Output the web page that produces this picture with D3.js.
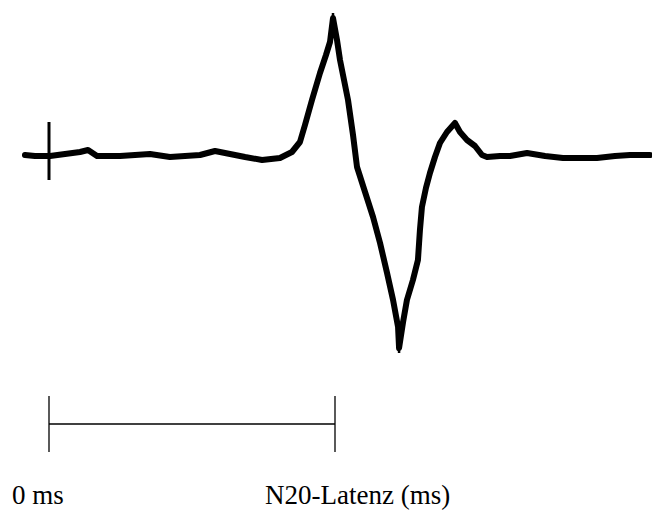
<!DOCTYPE html>
<html>
<head>
<meta charset="UTF-8">
<title>N20-Latenz</title>
<style>
  body { margin: 0; background: #fff; }
  svg text { font-family: "Liberation Serif", "Times New Roman", serif; }
</style>
</head>
<body>
<div id="chart"></div>
<script src="https://cdnjs.cloudflare.com/ajax/libs/d3/7.8.5/d3.min.js"></script>
<script>
// time in ms (0 = stimulus), amplitude in arbitrary units (positive = up)
const times = [-1.68, -0.98, 0.07, 1.12, 2.17, 2.73, 3.36, 4.97, 7.06, 8.46, 9.51, 10.56, 11.61, 12.66, 13.71, 14.90,
  16.15, 16.99, 17.55, 17.90, 18.39, 18.95, 19.37, 19.65, 19.86, 20.14, 20.35, 20.63, 20.91, 21.26, 21.54,
  22.10, 22.66, 23.15, 23.64, 24.06, 24.41, 24.48, 24.76, 25.03, 25.45, 25.80, 25.94, 26.08, 26.36, 26.64,
  26.99, 27.34, 27.83, 28.39, 28.74, 29.23, 29.79, 30.28, 30.63, 31.54, 32.24, 33.43, 34.69, 35.94, 37.13,
  38.32, 39.58, 40.63, 42.03];
const amps = [0, -0.1, -0.1, 0.1, 0.3, 0.5, -0.1, -0.1, 0.1, -0.2, -0.1, 0, 0.4, 0.1, -0.2, -0.5,
  -0.3, 0.3, 1.3, 3.0, 5.5, 8.2, 10.0, 11.3, 13.7, 11.5, 9.5, 7.5, 5.5, 2.0, -1.2,
  -3.7, -6.2, -8.8, -11.8, -14.5, -17.2, -19.3, -16.7, -14.5, -12.5, -10.5, -7.5, -5.2, -3.3, -1.8,
  -0.2, 1.2, 2.3, 3.2, 2.3, 1.5, 0.9, 0, -0.2, -0.1, -0.1, 0.2, -0.1, -0.3, -0.3,
  -0.3, -0.1, 0, 0];
// thin tips at the two peaks: [time, amp from, amp to]
const spikes = [[19.86, 12.0, 14.2], [24.48, -17.5, -19.8]];
const stimulus = { t: 0, top: 3.3, bottom: -2.5 };
const latency = { start: 0, end: 20 };
const labels = ["0 ms", "N20-Latenz (ms)"];

const width = 652, height = 511;
const x = d3.scaleLinear().domain([0, 20]).range([49, 335]);
const y = d3.scaleLinear().domain([0, 10]).range([155, 55]);

const svg = d3.select("#chart").append("svg")
  .attr("width", width)
  .attr("height", height);

const data = times.map((t, i) => ({ t: t, v: amps[i] }));

svg.append("path")
  .datum(data)
  .attr("fill", "none")
  .attr("stroke", "#000")
  .attr("stroke-width", 6)
  .attr("stroke-linejoin", "round")
  .attr("stroke-linecap", "round")
  .attr("d", d3.line().x(d => x(d.t)).y(d => y(d.v)));

svg.selectAll("line.spike")
  .data(spikes)
  .enter().append("line")
  .attr("class", "spike")
  .attr("x1", d => x(d[0])).attr("x2", d => x(d[0]))
  .attr("y1", d => y(d[1])).attr("y2", d => y(d[2]))
  .attr("stroke", "#000")
  .attr("stroke-width", 2.5);

// stimulus marker
svg.append("line")
  .attr("x1", x(stimulus.t)).attr("x2", x(stimulus.t))
  .attr("y1", y(stimulus.top)).attr("y2", y(stimulus.bottom))
  .attr("stroke", "#000")
  .attr("stroke-width", 3);

// latency bracket
const by = 424, tickH = 28;
const bracket = svg.append("g").attr("stroke", "#000").attr("stroke-width", 1.3);
bracket.append("line")
  .attr("x1", x(latency.start)).attr("x2", x(latency.end))
  .attr("y1", by).attr("y2", by);
[latency.start, latency.end].forEach(t => {
  bracket.append("line")
    .attr("x1", x(t)).attr("x2", x(t))
    .attr("y1", by - tickH).attr("y2", by + tickH);
});

svg.append("text")
  .attr("x", 12).attr("y", 504)
  .attr("font-size", 27)
  .text(labels[0]);
svg.append("text")
  .attr("x", 265).attr("y", 504)
  .attr("font-size", 27)
  .text(labels[1]);
</script>
</body>
</html>
